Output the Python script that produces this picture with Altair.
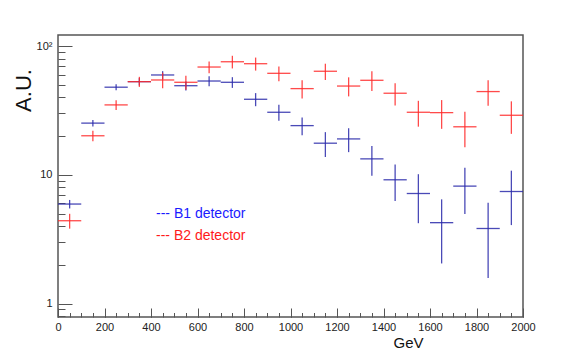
import altair as alt
import pandas as pd

# ---- data ----
bin_centers = [50, 150, 250, 350, 450, 550, 650, 750, 850, 950,
               1050, 1150, 1250, 1350, 1450, 1550, 1650, 1750, 1850, 1950]
bin_half_width = 50

b1_values = [5.93, 25.2, 47.9, 52.9, 59.6, 49.2, 53.5, 52.3, 38.6, 30.6,
             24.1, 17.6, 19.0, 13.3, 9.15, 7.16, 4.25, 8.17, 3.83, 7.42]
b1_errors = [0.45, 1.5, 2.6, 3.5, 4.2, 3.95, 4.75, 5.0, 4.5, 4.35,
             3.8, 3.85, 4.0, 3.45, 2.9, 2.95, 2.2, 3.2, 2.25, 3.35]

b2_values = [4.40, 20.1, 34.9, 52.9, 54.5, 52.3, 68.7, 75.5, 72.9, 61.4,
             46.7, 63.7, 48.9, 54.2, 43.0, 30.6, 30.4, 23.6, 44.3, 29.0]
b2_errors = [0.58, 1.9, 3.1, 4.75, 7.5, 6.5, 7.2, 8.5, 8.45, 8.05,
             7.65, 9.2, 8.25, 9.45, 8.4, 6.95, 7.65, 7.25, 9.85, 8.2]

series_names = ["B1", "B2"]
legend_labels = ["--- B1 detector", "--- B2 detector"]
bar_colors = ["#2a2aaa", "#ff2a2a"]
text_colors = ["#1a1aff", "#ff1a1a"]

x_major = [0, 200, 400, 600, 800, 1000, 1200, 1400, 1600, 1800, 2000]
x_minor = [v for v in range(0, 2001, 50)]
y_major = [1, 10, 100]
y_minor = [0.8, 0.9, 2, 3, 4, 5, 6, 7, 8, 9, 20, 30, 40, 50, 60, 70, 80, 90]

x_domain = [0, 2000]
y_domain = [0.787, 121.8]

# ---- table ----
rows = []
for name, vals, errs in [("B1", b1_values, b1_errors), ("B2", b2_values, b2_errors)]:
    for c, v, e in zip(bin_centers, vals, errs):
        rows.append({"series": name, "center": c,
                     "lo": c - bin_half_width, "hi": c + bin_half_width,
                     "val": v, "low": v - e, "high": v + e})
df = pd.DataFrame(rows)

x_scale = alt.Scale(domain=x_domain, nice=False, zero=False)
y_scale = alt.Scale(type="log", domain=y_domain, nice=False)
color = alt.Color("series:N", scale=alt.Scale(domain=series_names, range=bar_colors), legend=None)

FONT = "Liberation Sans"
TICK_COLOR = "#555555"

x_major_axis = alt.Axis(values=x_major, orient="bottom", offset=-9, tickSize=9, domain=False,
                        grid=False, labelFontSize=11, labelPadding=4, labelColor="#222222",
                        labelFont=FONT, tickColor=TICK_COLOR, tickWidth=1, format="d",
                        labelFlush=False, labelOverlap=False, labelBound=False,
                        title="GeV", titleFont=FONT, titleFontSize=15, titleFontWeight="normal",
                        titleColor="#111111", titleX=350, titleY=34, titleAlign="center",
                        titleBaseline="middle")
x_minor_axis = alt.Axis(values=x_minor, orient="bottom", offset=-4.5, tickSize=4.5, domain=False,
                        grid=False, labels=False, tickColor=TICK_COLOR, tickWidth=1)
y_major_axis = alt.Axis(values=y_major, orient="left", offset=-14, tickSize=14, domain=False,
                        grid=False, labelFontSize=11, labelPadding=6, labelColor="#222222",
                        labelFont=FONT, tickColor=TICK_COLOR, tickWidth=1,
                        labelExpr="datum.value == 100 ? '10²' : datum.value == 10 ? '10' : '1'",
                        labelFlush=False, labelOverlap=False, labelBound=False,
                        title="A.U.", titleFont=FONT, titleFontSize=22, titleFontWeight="normal",
                        titleColor="#111111", titleAngle=270, titleX=-48.5, titleY=55,
                        titleAlign="center", titleBaseline="middle")
y_minor_axis = alt.Axis(values=y_minor, orient="left", offset=-7, tickSize=7, domain=False,
                        grid=False, labels=False, tickColor=TICK_COLOR, tickWidth=1)

horiz = alt.Chart(df).mark_rule(strokeWidth=1.3, opacity=0.85).encode(
    x=alt.X("lo:Q", scale=x_scale, axis=x_major_axis),
    x2="hi:Q",
    y=alt.Y("val:Q", scale=y_scale, axis=y_major_axis),
    color=color,
)

vert = alt.Chart(df).mark_rule(strokeWidth=1.3, opacity=0.85).encode(
    x=alt.X("center:Q", scale=x_scale, axis=x_minor_axis, title=None),
    y=alt.Y("low:Q", scale=y_scale, axis=y_minor_axis, title=None),
    y2="high:Q",
    color=color,
)

legend_layers = []
for i, (lab, col) in enumerate(zip(legend_labels, text_colors)):
    legend_layers.append(
        alt.Chart(pd.DataFrame({"label": [lab]})).mark_text(
            font=FONT, fontSize=14, align="left", baseline="middle", color=col
        ).encode(text="label:N", x=alt.value(98), y=alt.value(178.5 + 22 * i))
    )

chart = alt.layer(horiz, vert, *legend_layers).resolve_axis(
    x="independent", y="independent"
).properties(
    width=465, height=282,
    autosize=alt.AutoSizeParams(type="none"),
    padding={"left": 50, "top": 27, "right": 50, "bottom": 38},
    background="white",
).configure_view(
    stroke="#555555", strokeWidth=1.5
)

chart.save("out.html", embed_options={"renderer": "svg", "actions": False})
